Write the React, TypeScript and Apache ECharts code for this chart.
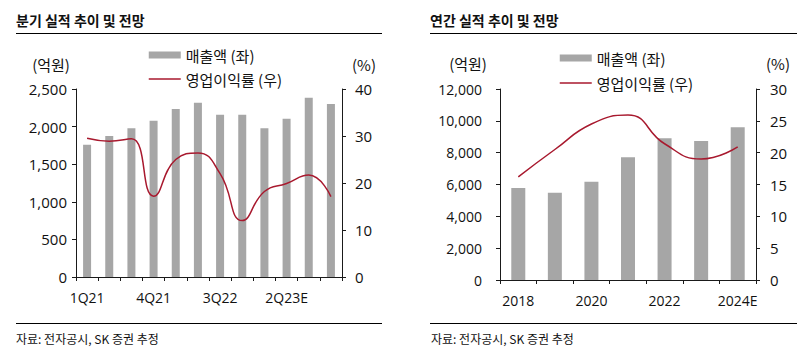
import React, { useEffect, useRef } from "react";
import * as echarts from "echarts";

const quarters = ["1Q21", "2Q21", "3Q21", "4Q21", "1Q22", "2Q22", "3Q22", "4Q22", "1Q23", "2Q23E", "3Q23E", "4Q23E"];
const quarterSales = [1760, 1875, 1977, 2078, 2234, 2318, 2158, 2158, 1977, 2105, 2384, 2300];
const quarterMargin = [29.5, 28.9, 29.4, 17.2, 25.0, 26.4, 22.0, 12.0, 18.2, 19.9, 21.7, 17.1];

const years = ["2018", "2019", "2020", "2021", "2022", "2023", "2024E"];
const yearSales = [5780, 5485, 6176, 7709, 8903, 8733, 9594];
const yearMargin = [16.2, 20.5, 24.5, 25.9, 21.4, 19.0, 20.9];

const SALES = "매출액 (좌)";
const MARGIN = "영업이익률 (우)";
const titles = ["분기 실적 추이 및 전망", "연간 실적 추이 및 전망"];
const sourceText = "자료: 전자공시, SK 증권 추정";

const FONT = "'Open Sans','Noto Sans CJK KR',sans-serif";
const KFONT = "'Noto Sans CJK KR','Open Sans',sans-serif";
const BAR = "#a6a6a6";
const RED = "#a8192e";
const AX = "#1a1a1a";
const TXT = "#111";

const fmt = (v: number) => v.toLocaleString("en-US");

export default function App() {
  const ref = useRef<HTMLDivElement>(null);
  useEffect(() => {
    if (!ref.current) return;
    const chart = echarts.init(ref.current, undefined, { renderer: "svg" });
    const axisLine = { show: true, lineStyle: { color: AX, width: 1 } };
    const axisTick = { show: true, length: 4, lineStyle: { color: AX, width: 1 } };
    const yBase = (grid: number, pos: "left" | "right", max: number, interval: number, margin: number, fs: number) => ({
      type: "value",
      gridIndex: grid,
      position: pos,
      min: 0,
      max,
      interval,
      axisLine,
      axisTick,
      splitLine: { show: false },
      axisLabel: { color: TXT, fontFamily: FONT, fontSize: fs, margin, formatter: (v: number) => fmt(v) },
    });
    const xBase = (grid: number, data: string[], labelInterval: number) => ({
      type: "category",
      gridIndex: grid,
      data,
      boundaryGap: true,
      axisLine,
      axisTick: { ...axisTick, interval: 0, alignWithLabel: false },
      axisLabel: { color: TXT, fontFamily: FONT, fontSize: 14, margin: 13, interval: labelInterval },
      splitLine: { show: false },
    });
    const legend = (left: number, top: number, gap: number) => ({
      orient: "vertical",
      left,
      top,
      padding: 0,
      itemWidth: 32,
      itemHeight: 7,
      itemGap: gap,
      textStyle: { color: TXT, fontFamily: KFONT, fontSize: 15, lineHeight: 18, padding: [0, 0, 0, 0] },
      data: [
        { name: SALES, icon: "rect" },
        { name: MARGIN, itemStyle: { opacity: 0, color: "transparent", borderWidth: 0 }, lineStyle: { color: RED, width: 1.5, opacity: 1 } },
      ],
      selectedMode: false,
    });
    const text = (t: string, x: number, y: number, size: number, align = "left", weight = "normal") => ({
      type: "text",
      x,
      y,
      style: { text: t, fill: TXT, fontFamily: KFONT, fontSize: size, fontWeight: weight, align, verticalAlign: "middle" },
    });
    const hline = (x1: number, x2: number, y: number) => ({
      type: "line",
      shape: { x1, y1: y, x2, y2: y },
      style: { stroke: "#000", lineWidth: 1 },
    });

    chart.setOption({
      animation: false,
      grid: [
        { left: 76, top: 89, width: 266, height: 188 },
        { left: 500, top: 89, width: 256, height: 191 },
      ],
      xAxis: [xBase(0, quarters, 2), xBase(1, years, 1)],
      yAxis: [
        yBase(0, "left", 2500, 500, 9, 15),
        yBase(0, "right", 40, 10, 13, 15),
        yBase(1, "left", 12000, 2000, 18, 14),
        yBase(1, "right", 30, 5, 14, 15),
      ],
      legend: [legend(148, 46, 6), legend(559, 49, 7)],
      series: [
        { name: SALES, type: "bar", xAxisIndex: 0, yAxisIndex: 0, data: quarterSales, barWidth: 8, itemStyle: { color: BAR } },
        { name: MARGIN, type: "line", xAxisIndex: 0, yAxisIndex: 1, data: quarterMargin, smooth: 0.5, symbol: "none", lineStyle: { color: RED, width: 1.5 }, itemStyle: { color: RED } },
        { name: SALES, type: "bar", xAxisIndex: 1, yAxisIndex: 2, data: yearSales, barWidth: 14, itemStyle: { color: BAR } },
        { name: MARGIN, type: "line", xAxisIndex: 1, yAxisIndex: 3, data: yearMargin, smooth: 0.5, symbol: "none", lineStyle: { color: RED, width: 1.5 }, itemStyle: { color: RED } },
      ],
      graphic: [
        text(titles[0], 16, 20, 14, "left", "bold"),
        text(titles[1], 430, 20, 14, "left", "bold"),
        hline(16, 382, 33.5),
        hline(430, 797, 33.5),
        hline(16, 382, 323.5),
        hline(430, 797, 323.5),
        text(sourceText, 16, 338, 12),
        text(sourceText, 431, 338, 12),
        text("(억원)", 51, 64, 15, "center"),
        text("(%)", 364, 64, 15, "center"),
        text("(억원)", 468, 63, 15, "center"),
        text("(%)", 778, 63, 15, "center"),
      ],
    });
    return () => chart.dispose();
  }, []);
  return <div ref={ref} style={{ position: "absolute", left: 0, top: 0, width: 807, height: 353, background: "#fff" }} />;
}
